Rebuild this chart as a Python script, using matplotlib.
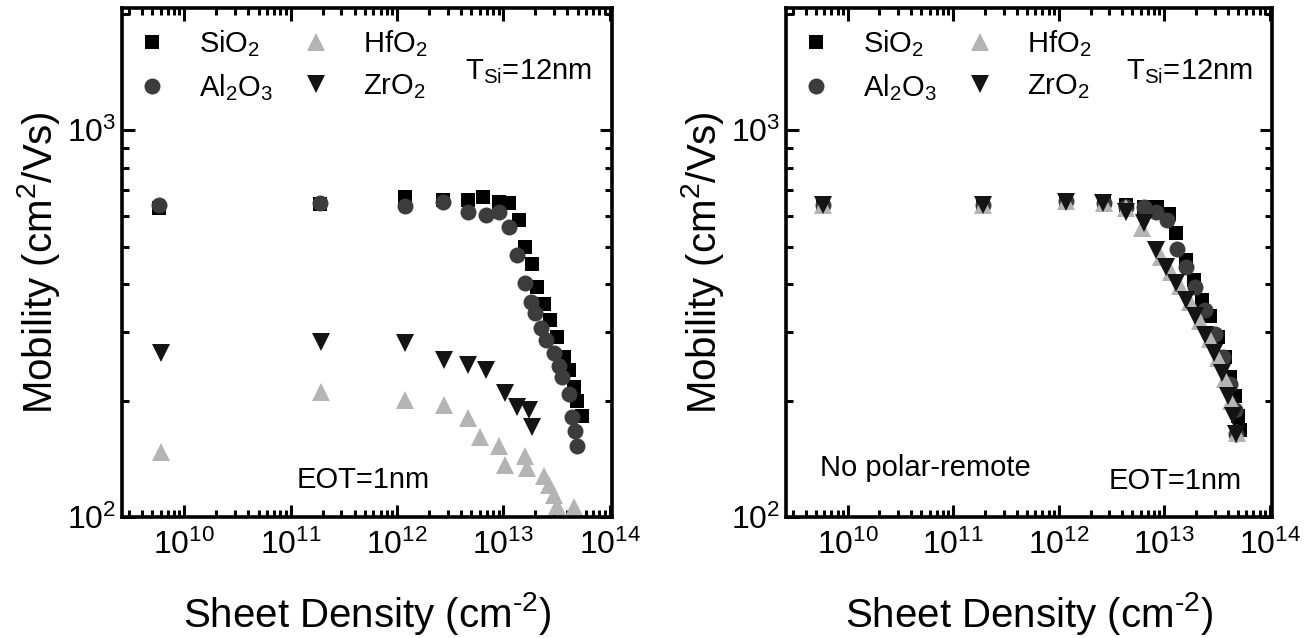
import matplotlib
matplotlib.use("Agg")
import matplotlib.pyplot as plt
from matplotlib.ticker import LogLocator, NullFormatter

plt.rcParams['font.family'] = ['Liberation Sans', 'DejaVu Sans']
plt.rcParams['mathtext.fontset'] = 'custom'
plt.rcParams['mathtext.rm'] = 'Liberation Sans'
plt.rcParams['mathtext.it'] = 'Liberation Sans:italic'
plt.rcParams['mathtext.bf'] = 'Liberation Sans:bold'

# ---- panel (a): with remote polar-phonon scattering ----
a_sio2_n = [5.8e9, 1.88e11, 1.19e12, 2.73e12, 4.7e12, 6.5e12, 9.0e12, 1.12e13, 1.40e13, 1.61e13,
            1.87e13, 2.08e13, 2.40e13, 2.77e13, 3.21e13, 3.71e13, 4.13e13, 4.60e13, 4.95e13, 5.52e13]
a_sio2_mu = [628, 643, 670, 659, 659, 673, 653, 648, 585, 499,
             452, 394, 356, 323, 292, 259, 240, 217, 200, 182]

a_al2o3_n = [5.8e9, 1.88e11, 1.19e12, 2.73e12, 4.7e12, 6.8e12, 9.0e12, 1.12e13, 1.35e13, 1.61e13,
             1.80e13, 2.00e13, 2.25e13, 2.49e13, 2.99e13, 3.3e13, 3.58e13, 4.13e13, 4.44e13, 4.7e13, 4.96e13]
a_al2o3_mu = [640, 648, 637, 653, 615, 603, 615, 562, 475, 402,
              360, 336, 308, 286, 265, 245, 230, 208, 181, 167, 153]

a_hfo2_n = [6.0e9, 1.95e11, 1.19e12, 2.77e12, 4.7e12, 6.07e12, 9.0e12, 1.04e13, 1.61e13, 1.65e13,
            2.4e13, 2.7e13, 3.0e13, 3.2e13, 3.4e13, 4.6e13]
a_hfo2_mu = [147, 211, 201, 195, 180, 161, 153, 136, 144, 134,
             128, 121, 114, 107, 99, 106]

a_zro2_n = [6.0e9, 1.95e11, 1.19e12, 2.77e12, 4.7e12, 6.8e12, 1.04e13, 1.35e13, 1.73e13, 1.86e13]
a_zro2_mu = [265, 284, 281, 255, 247, 240, 209, 193, 189, 171]

# ---- panel (b): remote polar-phonon scattering switched off ----
b_sio2_n = [5.8e9, 1.92e11, 1.16e12, 2.66e12, 4.36e12, 6.46e12, 8.6e12, 1.11e13, 1.28e13, 1.59e13,
            1.90e13, 2.27e13, 2.72e13, 3.26e13, 3.77e13, 4.19e13, 4.67e13, 5.01e13, 5.2e13]
b_sio2_mu = [640, 640, 655, 653, 640, 633, 633, 609, 541, 461,
             409, 364, 330, 292, 259, 230, 205, 182, 168]

b_al2o3_n = [5.8e9, 1.92e11, 1.16e12, 2.66e12, 4.36e12, 6.46e12, 8.3e12, 1.07e13, 1.32e13, 1.59e13,
             1.97e13, 2.45e13, 3.03e13, 3.63e13, 4.19e13, 4.67e13, 4.83e13]
b_al2o3_mu = [640, 640, 655, 650, 633, 633, 615, 585, 494, 443,
              394, 343, 298, 259, 221, 189, 164]

b_hfo2_n = [5.8e9, 1.92e11, 1.16e12, 2.66e12, 4.36e12, 6.2e12, 9.3e12, 1.15e13, 1.4e13, 1.75e13,
            2.2e13, 2.7e13, 3.2e13, 3.8e13, 4.3e13, 4.93e13]
b_hfo2_mu = [640, 640, 655, 648, 630, 560, 470, 430, 395, 360,
             322, 288, 258, 228, 200, 165]

b_zro2_n = [5.8e9, 1.92e11, 1.16e12, 2.63e12, 4.36e12, 6.46e12, 8.3e12, 1.03e13, 1.28e13, 1.59e13,
            1.97e13, 2.45e13, 2.93e13, 3.50e13, 4.04e13, 4.50e13, 4.83e13]
b_zro2_mu = [640, 640, 652, 648, 615, 574, 489, 443, 402, 364,
             330, 295, 265, 235, 205, 182, 164]

labels = ['SiO$_2$', 'Al$_2$O$_3$', 'HfO$_2$', 'ZrO$_2$']
markers = ['s', 'o', '^', 'v']
colors = ['#000000', '#3c3c3c', '#b4b4b4', '#141414']
sizes = [10.5, 11.5, 13.5, 13.5]

panels = [
    dict(data=[(a_sio2_n, a_sio2_mu), (a_al2o3_n, a_al2o3_mu), (a_hfo2_n, a_hfo2_mu), (a_zro2_n, a_zro2_mu)],
         rect=[122 / 1307, 1 - 517 / 638, 490 / 1307, 509 / 638],
         notes=[(0.357, 0.073, 'EOT=1nm')]),
    dict(data=[(b_sio2_n, b_sio2_mu), (b_al2o3_n, b_al2o3_mu), (b_hfo2_n, b_hfo2_mu), (b_zro2_n, b_zro2_mu)],
         rect=[786 / 1307, 1 - 517 / 638, 486 / 1307, 509 / 638],
         notes=[(0.07, 0.097, 'No polar-remote'), (0.663, 0.07, 'EOT=1nm')]),
]

fig = plt.figure(figsize=(13.07, 6.38), dpi=100)

for p in panels:
    ax = fig.add_axes(p['rect'])
    for (n, mu), lab, mk, c, ms in zip(p['data'], labels, markers, colors, sizes):
        ax.plot(n, mu, linestyle='none', marker=mk, color=c, markersize=ms,
                markeredgewidth=0, label=lab)
    ax.set_xscale('log')
    ax.set_yscale('log')
    ax.set_xlim(2.6e9, 1.05e14)
    ax.set_ylim(100, 2070)
    ax.xaxis.set_major_locator(LogLocator(base=10, numticks=20))
    ax.xaxis.set_minor_locator(LogLocator(base=10, subs=range(2, 10), numticks=20))
    ax.yaxis.set_major_locator(LogLocator(base=10, numticks=20))
    ax.yaxis.set_minor_locator(LogLocator(base=10, subs=range(2, 10), numticks=20))
    ax.yaxis.set_minor_formatter(NullFormatter())
    ax.xaxis.set_minor_formatter(NullFormatter())
    ax.tick_params(which='both', direction='in', top=True, right=True, width=2.2)
    ax.tick_params(which='major', length=9, labelsize=23)
    ax.tick_params(axis='x', which='major', pad=9)
    ax.tick_params(axis='y', which='major', pad=4)
    ax.tick_params(which='minor', length=5)
    for s in ax.spines.values():
        s.set_linewidth(2.6)
    ax.set_xlabel('Sheet Density (cm$^{\u2010 2}$)', fontsize=29, labelpad=21)
    ax.set_ylabel('Mobility (cm$^2$/Vs)', fontsize=29, labelpad=4)
    leg = ax.legend(loc='upper left', bbox_to_anchor=(-0.01, 1.0), ncol=2, frameon=False,
                    fontsize=21, handlelength=1.0, handletextpad=1.1, columnspacing=1.0,
                    labelspacing=0.45, borderaxespad=0.3)
    ax.text(0.70, 0.875, 'T$_{\\rm Si}$=12nm', transform=ax.transAxes, fontsize=21,
            ha='left', va='center')
    for x, y, t in p['notes']:
        ax.text(x, y, t, transform=ax.transAxes, fontsize=21, ha='left', va='center')

fig.savefig('out.png', dpi=100)
